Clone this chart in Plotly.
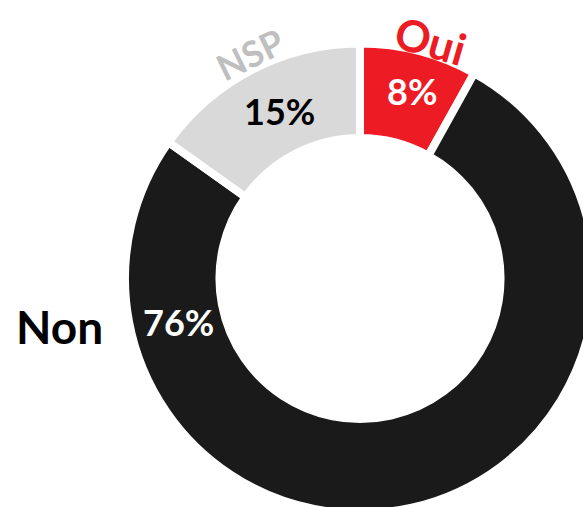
import plotly.graph_objects as go

# ---- data ----
labels = ["Oui", "Non", "NSP"]
values = [8, 76, 15]
pct_text = ["8%", "76%", "15%"]
slice_colors = ["#ED1C24", "#1A1A1A", "#D9D9D9"]
label_colors = ["#ED1C24", "#000000", "#BFBFBF"]
pct_colors = ["#FFFFFF", "#FFFFFF", "#000000"]

# ---- layout geometry (pixels) ----
W, H = 595, 514
CX, CY = 360, 278.5      # centre, from top-left
R = 235                  # plotly radius (incl. half the white stroke)
HOLE = 0.598
FONT = "Lato"

def px(x):
    return x / W

def py(y):
    return 1 - y / H

fig = go.Figure()
fig.add_trace(go.Pie(
    labels=labels,
    values=values,
    sort=False,
    direction="clockwise",
    rotation=0,
    hole=HOLE,
    textinfo="none",
    hoverinfo="label+value",
    marker=dict(colors=slice_colors, line=dict(color="white", width=8)),
    domain=dict(x=[(CX - R) / W, 1.0], y=[(H - CY - R) / H, (H - CY + R) / H]),
    showlegend=False,
))

# label placements: (x, y, size, angle)
label_pos = [(430, 40, 44, 16), (59, 326, 46, 0), (250, 54, 36, -26)]
pct_pos = [(412, 91, 36), (178, 322, 36), (279, 111, 36)]

annotations = []
for lab, col, (x, y, s, a) in zip(labels, label_colors, label_pos):
    annotations.append(dict(
        text=f"<b>{lab}</b>", x=px(x), y=py(y), xref="paper", yref="paper",
        xanchor="center", yanchor="middle", showarrow=False, textangle=a,
        font=dict(family=FONT, size=s, color=col),
    ))
for t, col, (x, y, s) in zip(pct_text, pct_colors, pct_pos):
    annotations.append(dict(
        text=f"<b>{t}</b>", x=px(x), y=py(y), xref="paper", yref="paper",
        xanchor="center", yanchor="middle", showarrow=False,
        font=dict(family=FONT, size=s, color=col),
    ))

fig.update_layout(
    width=W, height=H,
    margin=dict(l=0, r=0, t=0, b=0),
    paper_bgcolor="white",
    plot_bgcolor="white",
    annotations=annotations,
)

fig.write_html(
    "out.html",
    post_script="document.body.style.margin='0';document.body.style.overflow='hidden';document.documentElement.style.overflow='hidden';",
)
